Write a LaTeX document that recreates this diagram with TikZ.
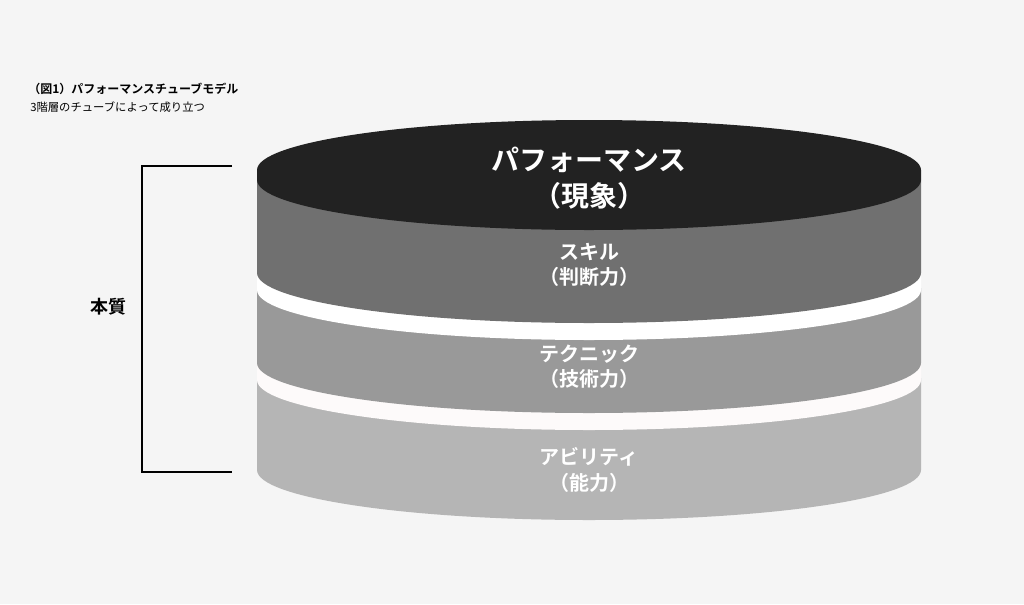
\documentclass[tikz,border=0pt]{standalone}
\usepackage{fontspec}
\newfontfamily\jp{Noto Sans CJK JP}
\newfontfamily\jpb{Noto Sans CJK JP Bold}
\definecolor{bg}{HTML}{F5F5F5}
\definecolor{topc}{HTML}{222222}
\definecolor{skill}{HTML}{707070}
\definecolor{tech}{HTML}{999999}
\definecolor{abil}{HTML}{B5B5B5}
\definecolor{gap}{HTML}{FDFAFA}
\tikzset{
  lbl/.style={text=white,align=center,font=\jpb\fontsize{15}{19}\selectfont},
}
% layer: #1 colour, #2 top y, #3 bottom y
\newcommand\tubelayer[3]{%
  \fill[#1] (257,#2) -- (257,#3) arc[start angle=180,end angle=360,x radius=249pt,y radius=37.5pt] -- (921,#2) -- cycle;}

\begin{document}
\begin{tikzpicture}[x=0.75pt,y=-0.75pt]
  \fill[bg] (0,0) rectangle (1024,604);
  \useasboundingbox (0,0) rectangle (1024,604);
  % tube, bottom first
  \tubelayer{abil}{378}{470}
  \tubelayer{gap}{363}{380}
  \tubelayer{tech}{288}{363}
  \tubelayer{white}{273}{290}
  \tubelayer{skill}{180}{273}
  \fill[topc] (257,170) -- (257,180) arc[start angle=180,end angle=360,x radius=249pt,y radius=37.5pt] -- (921,170) arc[start angle=0,end angle=180,x radius=249pt,y radius=37.5pt] -- cycle;
  \node[lbl,font=\jpb\fontsize{21}{27}\selectfont] (perf) at (589,178) {パフォーマンス\\（現象）};
  \node[lbl] (skl) at (589,265) {スキル\\（判断力）};
  \node[lbl] (tec) at (589,367) {テクニック\\（技術力）};
  \node[lbl] (abl) at (589,470) {アビリティ\\（能力）};
  % bracket
  \coordinate (bt) at (232,166);
  \coordinate (bb) at (232,472);
  \draw[line width=1.5pt] (bt) -| (142,472) -- (bb);
  \node[font=\jpb\fontsize{13.5}{16}\selectfont] (ess) at (108,307) {本質};
  % caption
  \node[anchor=west,inner sep=0,font=\jpb\fontsize{9}{11}\selectfont] (cap) at (28,89) {（図1）パフォーマンスチューブモデル};
  \node[anchor=west,inner sep=0,font=\jp\fontsize{8.5}{11}\selectfont] (sub) at (30,107) {3階層のチューブによって成り立つ};
\end{tikzpicture}
\end{document}
